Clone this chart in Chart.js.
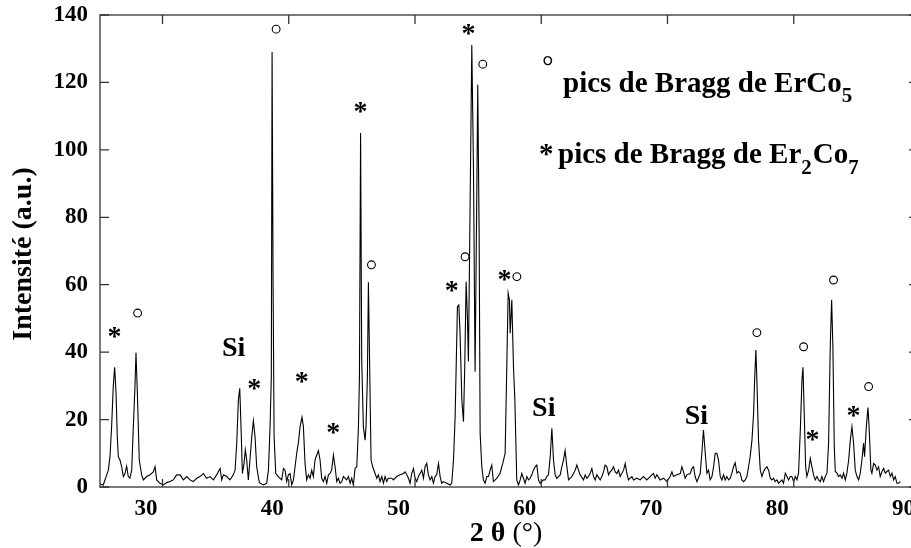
<!DOCTYPE html>
<html lang="fr">
<head>
<meta charset="UTF-8">
<title>Diffractogramme ErCo5 / Er2Co7</title>
<script src="https://cdn.jsdelivr.net/npm/chart.js@4.4.0/dist/chart.umd.min.js"></script>
<style>
    html, body { margin: 0; padding: 0; background: #fff; overflow: hidden; }
    #wrap { width: 920px; height: 548px; }
</style>
</head>
<body>
<div id="wrap"><canvas id="xrd"></canvas></div>
<script>
// 2 theta (deg) and intensity (a.u.)
var twoTheta = [
    25.05,25.31,25.58,25.71,25.84,25.97,26.10,26.21,26.32,26.42,26.50,26.63,26.77,26.90,27.03,27.16,27.29,27.42,27.56,27.69,27.82,27.90,28.01,28.16,28.35,28.48,28.75,29.01,29.27,29.41,29.54,29.80,
    30.07,30.33,30.59,30.86,31.12,31.39,31.65,31.92,32.18,32.44,32.71,32.97,33.24,33.50,33.76,34.03,34.29,34.56,34.69,34.82,
    35.09,35.35,35.61,35.75,35.88,36.01,36.12,36.22,36.33,36.46,36.56,36.67,36.80,36.93,37.07,37.20,37.33,37.46,37.67,37.99,38.25,38.39,38.52,38.62,38.68,38.76,38.84,38.97,39.18,39.44,39.58,39.71,39.84,39.97,
    40.10,40.24,40.37,40.50,40.63,40.76,40.90,41.05,41.16,41.29,41.42,41.56,41.69,41.82,41.95,42.08,42.22,42.35,42.48,42.61,42.74,42.88,43.01,43.14,43.27,43.40,43.54,43.67,43.80,43.93,44.06,44.20,44.33,44.59,44.73,44.86,44.99,
    45.12,45.25,45.39,45.52,45.60,45.69,45.78,45.91,46.05,46.12,46.23,46.31,46.44,46.52,46.65,46.84,46.97,47.10,47.23,47.37,47.50,47.63,47.76,47.89,48.03,48.16,48.29,48.55,48.82,49.08,49.22,49.35,49.48,49.61,49.74,49.88,
    50.01,50.14,50.27,50.40,50.54,50.67,50.80,50.93,51.06,51.20,51.33,51.46,51.59,51.72,51.86,51.99,52.12,52.25,52.52,52.78,52.91,53.05,53.18,53.36,53.47,53.57,53.71,53.84,53.94,54.05,54.15,54.23,54.37,54.50,54.63,54.76,54.89,54.97,
    55.08,55.16,55.29,55.42,55.55,55.69,55.82,55.95,56.08,56.21,56.35,56.48,56.74,56.95,57.14,57.27,57.38,57.48,57.54,57.67,57.80,57.91,58.06,58.20,58.33,58.46,58.59,58.72,58.86,58.99,59.12,59.25,59.38,59.52,59.65,59.78,59.91,
    60.04,60.18,60.31,60.44,60.57,60.71,60.84,60.97,61.10,61.23,61.37,61.50,61.63,61.76,61.89,62.03,62.16,62.29,62.42,62.55,62.69,62.82,62.95,63.08,63.35,63.48,63.61,63.74,63.87,64.01,64.14,64.27,64.40,64.67,64.80,64.93,
    65.06,65.20,65.33,65.46,65.59,65.72,65.86,65.99,66.12,66.25,66.52,66.65,66.78,66.91,67.04,67.18,67.31,67.57,67.84,68.10,68.36,68.63,68.76,68.89,69.02,69.16,69.42,69.69,69.95,
    70.21,70.35,70.48,70.74,71.01,71.14,71.27,71.40,71.53,71.80,71.93,72.06,72.19,72.33,72.59,72.72,72.85,72.99,73.12,73.25,73.38,73.52,73.65,73.78,73.91,74.04,74.18,74.31,74.44,74.57,74.70,74.84,74.97,
    75.10,75.23,75.36,75.50,75.63,75.76,75.89,76.02,76.16,76.29,76.42,76.55,76.69,76.82,76.90,77.00,77.08,77.21,77.35,77.48,77.61,77.74,77.87,78.01,78.14,78.27,78.40,78.53,78.67,78.80,78.93,79.06,79.19,79.33,79.46,79.59,79.72,79.85,79.99,
    80.12,80.25,80.38,80.52,80.65,80.73,80.83,80.94,81.04,81.18,81.31,81.44,81.57,81.70,81.84,81.97,82.10,82.23,82.36,82.50,82.63,82.76,82.89,83.00,83.10,83.21,83.29,83.42,83.55,83.68,83.82,83.95,84.08,84.21,84.35,84.48,84.61,84.74,84.87,
    85.01,85.14,85.27,85.40,85.53,85.61,85.75,85.88,85.98,86.11,86.19,86.33,86.46,86.59,86.72,86.85,86.99,87.12,87.25,87.38,87.51,87.65,87.78,87.91,88.04,88.17,88.31,88.44
];
var intensity = [
    0.9,0.6,3.6,5.0,9.0,17.9,29.8,35.5,27.8,14.9,9.0,8.0,6.0,3.1,4.0,6.2,3.1,2.6,5.0,17.9,29.8,39.8,27.8,8.0,3.6,2.1,3.1,3.6,4.5,6.0,2.1,1.1,
    0.6,1.3,1.6,2.1,3.6,3.6,2.1,3.1,2.1,1.6,2.6,3.1,4.0,2.6,3.1,2.1,3.6,5.5,2.1,3.6,
    3.1,2.1,3.6,5.0,13.0,25.8,29.3,17.9,4.0,7.0,11.0,8.0,2.1,8.0,14.9,19.6,14.9,6.0,1.3,0.6,1.1,5.0,17.9,32.7,129.0,60.0,15.0,4.0,3.1,2.1,5.5,5.0,1.6,3.6,
    4.0,0.6,2.1,6.0,10.0,13.0,17.9,20.7,17.9,7.0,2.1,3.6,2.6,5.0,3.1,8.0,9.5,10.8,8.0,2.6,1.6,3.1,1.1,3.6,4.0,5.0,9.5,6.0,1.6,2.6,1.1,1.6,3.1,2.1,3.1,1.1,2.6,
    0.6,5.5,6.0,17.9,32.7,105.0,37.7,17.9,13.9,17.9,32.7,60.7,27.8,8.0,6.0,4.0,2.6,3.6,1.6,3.1,1.1,3.1,1.6,2.6,2.6,2.6,2.1,3.1,3.6,4.0,4.5,3.6,2.6,1.1,4.0,5.5,
    2.6,1.6,3.1,4.0,5.0,2.6,6.0,7.0,3.6,2.1,3.1,1.1,3.1,3.6,7.0,3.1,1.1,1.6,1.1,0.6,1.1,8.0,20.9,53.5,54.0,45.6,25.8,19.4,35.7,60.9,50.5,37.2,85.1,131.1,95.0,34.2,85.0,119.3,
    75.3,15.9,6.0,2.1,1.1,3.1,3.1,5.0,6.5,1.6,2.1,2.6,4.1,7.0,10.0,35.7,57.5,55.5,45.6,55.5,35.7,25.8,2.1,0.6,2.1,4.0,2.6,1.1,3.1,2.1,2.6,3.6,5.0,6.0,6.5,2.1,1.1,
    1.6,2.1,2.1,3.1,3.6,9.0,17.4,8.0,3.6,2.6,3.1,3.6,6.0,8.0,10.8,6.0,2.1,2.6,3.1,4.0,5.0,6.5,5.0,3.6,2.1,3.6,2.6,3.1,4.0,5.5,3.1,2.1,3.6,2.1,3.1,4.5,
    6.5,6.0,3.6,4.5,5.0,6.0,4.5,4.0,5.0,3.1,5.0,7.0,4.0,2.1,2.6,3.1,2.1,2.6,2.1,3.1,2.1,3.1,3.6,4.0,2.6,3.6,2.1,2.6,1.6,
    3.1,4.5,3.1,3.6,4.0,6.0,4.5,2.6,3.6,4.0,5.5,6.0,3.1,1.6,4.0,10.0,16.9,10.0,4.1,5.0,2.1,3.1,6.0,10.0,10.0,8.0,3.1,2.1,3.6,2.1,3.1,2.1,2.6,
    4.1,6.0,7.2,4.1,4.6,4.1,2.1,1.6,2.1,3.1,6.0,9.0,13.9,21.9,31.7,40.6,31.7,13.9,5.0,3.1,4.6,5.5,6.0,5.0,2.6,2.1,2.6,1.6,2.1,1.1,1.6,2.1,1.1,4.1,3.1,2.1,3.1,3.1,1.6,
    3.1,2.1,4.1,16.9,31.7,35.5,21.9,6.0,3.1,5.0,8.5,6.0,3.6,2.1,3.1,2.1,1.6,3.1,1.6,3.1,4.1,13.0,41.6,55.5,41.6,12.0,4.6,4.1,3.1,3.6,2.6,4.1,2.1,4.1,8.0,13.9,17.9,13.0,5.0,
    3.1,2.1,4.1,8.0,13.0,9.0,17.9,23.6,16.9,5.0,4.1,7.0,6.5,5.0,6.0,3.1,4.6,5.5,4.1,4.6,5.0,3.1,4.1,2.1,3.1,1.1,1.1,1.6
];

// peak markers: o = ErCo5, * = Er2Co7, Si = silicon reference
var markText = ['*','o','Si','*','o','*','*','*','o','*','o','*','o','*','o','Si','Si','o','o','*','o','*','o'];
var markX    = [26.2,28.03,35.69,37.27,39.0,41.03,43.53,45.69,46.55,52.92,53.97,54.23,55.37,57.08,58.07,60.25,72.33,77.08,80.78,81.49,83.15,84.74,85.93];
var markY    = [45.7,51.6,41.6,30.3,135.8,32.4,17.4,112.7,65.9,59.4,68.3,135.6,125.4,62.6,62.4,23.8,21.4,45.8,41.6,15.4,61.4,22.3,29.8];

var xTicks = [30, 40, 50, 60, 70, 80, 90];
var yTicks = [0, 20, 40, 60, 80, 100, 120, 140];

if (twoTheta.length != intensity.length) console.error('length mismatch', twoTheta.length, intensity.length);

var points = [];
for (var i = 0; i < twoTheta.length; i++) points.push({x: twoTheta[i], y: intensity[i]});

var serif = "'Liberation Serif', 'Times New Roman', serif";

// put a glyph's ink box centred on (px, py)
function centerText(ctx, t, px, py) {
    var m = ctx.measureText(t);
    ctx.textAlign = 'left';
    ctx.textBaseline = 'alphabetic';
    ctx.fillText(t, px - (m.actualBoundingBoxRight - m.actualBoundingBoxLeft) / 2,
                 py + (m.actualBoundingBoxAscent - m.actualBoundingBoxDescent) / 2);
}

// chemical formula with lowered digits
function formula(ctx, parts, x, base, size, subSize, drop) {
    parts.forEach(function(p) {
        var sub = /^[0-9]$/.test(p);
        ctx.font = 'bold ' + (sub ? subSize : size) + 'px ' + serif;
        ctx.fillText(p, x, sub ? base + drop : base);
        x += ctx.measureText(p).width + (sub ? 1 : 0);
    });
}

var decor = {
    id: 'decor',
    afterDraw: function(chart) {
        var ctx = chart.ctx, a = chart.chartArea, sx = chart.scales.x, sy = chart.scales.y;
        ctx.save();

        // frame + inward ticks
        ctx.strokeStyle = '#333';
        ctx.lineWidth = 1.3;
        ctx.strokeRect(a.left, a.top, a.right - a.left, a.bottom - a.top);
        ctx.beginPath();
        xTicks.forEach(function(v) {
            var p = sx.getPixelForValue(v);
            ctx.moveTo(p, a.bottom); ctx.lineTo(p, a.bottom - 8);
            ctx.moveTo(p, a.top); ctx.lineTo(p, a.top + 9);
        });
        yTicks.forEach(function(v) {
            var p = sy.getPixelForValue(v);
            ctx.moveTo(a.left, p); ctx.lineTo(a.left + 9, p);
            ctx.moveTo(a.right, p); ctx.lineTo(a.right - 11, p);
        });
        ctx.stroke();

        // peak markers
        ctx.fillStyle = '#000';
        ctx.strokeStyle = '#000';
        for (var i = 0; i < markText.length; i++) {
            var px = sx.getPixelForValue(markX[i]), py = sy.getPixelForValue(markY[i]);
            if (markText[i] == 'o') {
                ctx.lineWidth = 1.1;
                ctx.beginPath();
                ctx.arc(px, py, 3.9, 0, Math.PI * 2);
                ctx.stroke();
            } else {
                ctx.font = 'bold 28px ' + serif;
                centerText(ctx, markText[i], px, py);
            }
        }

        // legend text
        ctx.font = '29px ' + serif;
        centerText(ctx, '\u00b0', 548, 60);
        ctx.textAlign = 'left';
        ctx.textBaseline = 'alphabetic';
        formula(ctx, ['pics de Bragg de ErCo', '5'], 563, 92, 29, 21, 10);
        ctx.font = 'bold 29px ' + serif;
        ctx.fillText('*', 539, 163);
        formula(ctx, ['pics de Bragg de Er', '2', 'Co', '7'], 558, 163, 29, 21, 11);

        // x title: bold "2 θ", plain "(°)"
        ctx.font = 'bold 28px ' + serif;
        var tb = ctx.measureText('2 \u03b8 ').width;
        ctx.font = '28px ' + serif;
        var tn = ctx.measureText('(\u00b0)').width;
        var x0 = 506 - (tb + tn) / 2;
        ctx.font = 'bold 28px ' + serif;
        ctx.fillText('2 \u03b8 ', x0, 541);
        ctx.font = '28px ' + serif;
        ctx.fillText('(\u00b0)', x0 + tb, 541);

        // y title
        ctx.translate(24, 254);
        ctx.rotate(-Math.PI / 2);
        ctx.font = 'bold 28px ' + serif;
        ctx.textAlign = 'center';
        ctx.textBaseline = 'middle';
        ctx.fillText('Intensit\u00e9 (a.u.)', 0, 0);

        ctx.restore();
    }
};

new Chart('xrd', {
    type: 'scatter',
    data: {
        datasets: [{
            data: points,
            showLine: true,
            borderColor: '#000',
            borderWidth: 1.1,
            pointRadius: 0,
            tension: 0
        }]
    },
    options: {
        responsive: true,
        maintainAspectRatio: false,
        animation: false,
        layout: {padding: {top: 15, left: 0, right: 0, bottom: 0}},
        plugins: {legend: {display: false}, tooltip: {enabled: false}},
        scales: {
            x: {
                type: 'linear',
                min: 25.05,
                max: 90,
                grid: {display: false},
                border: {display: false},
                afterBuildTicks: function(s) { s.ticks = xTicks.map(function(v) { return {value: v}; }); },
                afterFit: function(s) { s.height = 61; s.paddingLeft = 0; s.paddingRight = 0; },
                ticks: {
                    font: {family: serif, size: 23, weight: 'bold'},
                    color: '#000',
                    padding: 0,
                    labelOffset: -16.5,
                    maxRotation: 0,
                    autoSkip: false
                }
            },
            y: {
                min: 0,
                max: 140,
                grid: {display: false},
                border: {display: false},
                afterBuildTicks: function(s) { s.ticks = yTicks.map(function(v) { return {value: v}; }); },
                afterFit: function(s) { s.width = 100; s.paddingTop = 0; s.paddingBottom = 0; },
                ticks: {
                    font: {family: serif, size: 23, weight: 'bold'},
                    color: '#000',
                    padding: 4
                }
            }
        }
    },
    plugins: [decor]
});
</script>
</body>
</html>
